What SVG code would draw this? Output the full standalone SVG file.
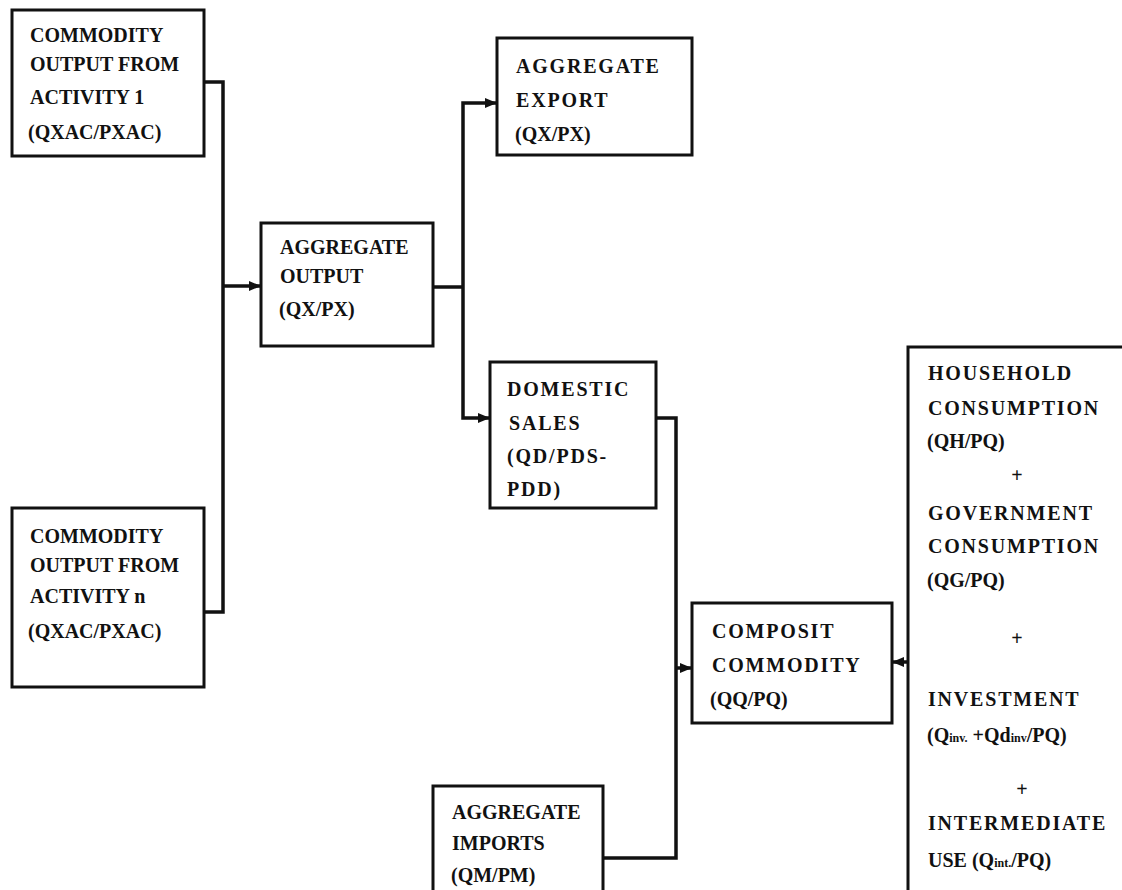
<svg xmlns="http://www.w3.org/2000/svg" width="1122" height="890" viewBox="0 0 1122 890">
<style>
.box{fill:#fff;stroke:#111;stroke-width:3}
.t{font-family:"Liberation Serif","Times New Roman",serif;font-weight:bold;font-size:20px;fill:#111}
.w{letter-spacing:1.8px}
.s{font-size:12px;letter-spacing:0}
.c{fill:none;stroke:#111;stroke-width:3.5}
</style>
<defs>
<marker id="ah" markerUnits="userSpaceOnUse" markerWidth="14" markerHeight="12" refX="12" refY="6" orient="auto">
<path d="M0,1 L12,6 L0,11 Z" fill="#111"/>
</marker>
</defs>
<rect width="1122" height="890" fill="#fff"/>
<g id="connectors">
<path class="c" d="M204,82 H223 V612 H204"/>
<path class="c" d="M223,286 H261" marker-end="url(#ah)"/>
<path class="c" d="M433,287 H463"/>
<path class="c" d="M463,287 V103 H497" marker-end="url(#ah)"/>
<path class="c" d="M463,287 V418 H490" marker-end="url(#ah)"/>
<path class="c" d="M656,418 H676 V858 H603"/>
<path class="c" d="M676,668 H692" marker-end="url(#ah)"/>
<path class="c" d="M908,662 H892" marker-end="url(#ah)"/>
</g>
<g id="activity1">
<rect class="box" x="12" y="10" width="192" height="146"/>
<text class="t" x="30" y="42">COMMODITY</text>
<text class="t" x="30" y="71">OUTPUT FROM</text>
<text class="t" x="30" y="104">ACTIVITY 1</text>
<text class="t" x="28" y="139">(QXAC/PXAC)</text>
</g>
<g id="activityn">
<rect class="box" x="12" y="508" width="192" height="179"/>
<text class="t" x="30" y="543">COMMODITY</text>
<text class="t" x="30" y="572">OUTPUT FROM</text>
<text class="t" x="30" y="603">ACTIVITY n</text>
<text class="t" x="28" y="638">(QXAC/PXAC)</text>
</g>
<g id="aggoutput">
<rect class="box" x="261" y="223" width="172" height="123"/>
<text class="t" x="280" y="254">AGGREGATE</text>
<text class="t" x="280" y="283">OUTPUT</text>
<text class="t" x="279" y="316">(QX/PX)</text>
</g>
<g id="aggexport">
<rect class="box" x="497" y="38" width="195" height="117"/>
<text class="t w" x="516" y="73">AGGREGATE</text>
<text class="t w" x="516" y="107">EXPORT</text>
<text class="t" x="515" y="141">(QX/PX)</text>
</g>
<g id="domestic">
<rect class="box" x="490" y="362" width="166" height="146"/>
<text class="t w" x="507" y="396">DOMESTIC</text>
<text class="t w" x="509" y="430">SALES</text>
<text class="t w" x="507" y="463">(QD/PDS-</text>
<text class="t w" x="507" y="496">PDD)</text>
</g>
<g id="composite">
<rect class="box" x="692" y="603" width="200" height="120"/>
<text class="t w" x="712" y="638">COMPOSIT</text>
<text class="t w" x="712" y="672">COMMODITY</text>
<text class="t" x="710" y="706">(QQ/PQ)</text>
</g>
<g id="imports">
<rect class="box" x="433" y="786" width="170" height="130"/>
<text class="t" x="452" y="819">AGGREGATE</text>
<text class="t" x="452" y="850">IMPORTS</text>
<text class="t" x="451" y="882">(QM/PM)</text>
</g>
<g id="demand">
<rect class="box" x="908" y="347" width="240" height="600"/>
<text class="t w" x="928" y="380">HOUSEHOLD</text>
<text class="t w" x="928" y="415">CONSUMPTION</text>
<text class="t" x="927" y="448">(QH/PQ)</text>
<text class="t" x="1017" y="482" text-anchor="middle">+</text>
<text class="t w" x="928" y="520">GOVERNMENT</text>
<text class="t w" x="928" y="553">CONSUMPTION</text>
<text class="t" x="927" y="587">(QG/PQ)</text>
<text class="t" x="1017" y="645" text-anchor="middle">+</text>
<text class="t w" x="928" y="706">INVESTMENT</text>
<text class="t" x="927" y="742">(Q<tspan class="s">inv.</tspan> +Qd<tspan class="s">inv</tspan>/PQ)</text>
<text class="t" x="1022" y="796" text-anchor="middle">+</text>
<text class="t w" x="928" y="830">INTERMEDIATE</text>
<text class="t" x="928" y="867">USE (Q<tspan class="s">int.</tspan>/PQ)</text>
</g>
</svg>
